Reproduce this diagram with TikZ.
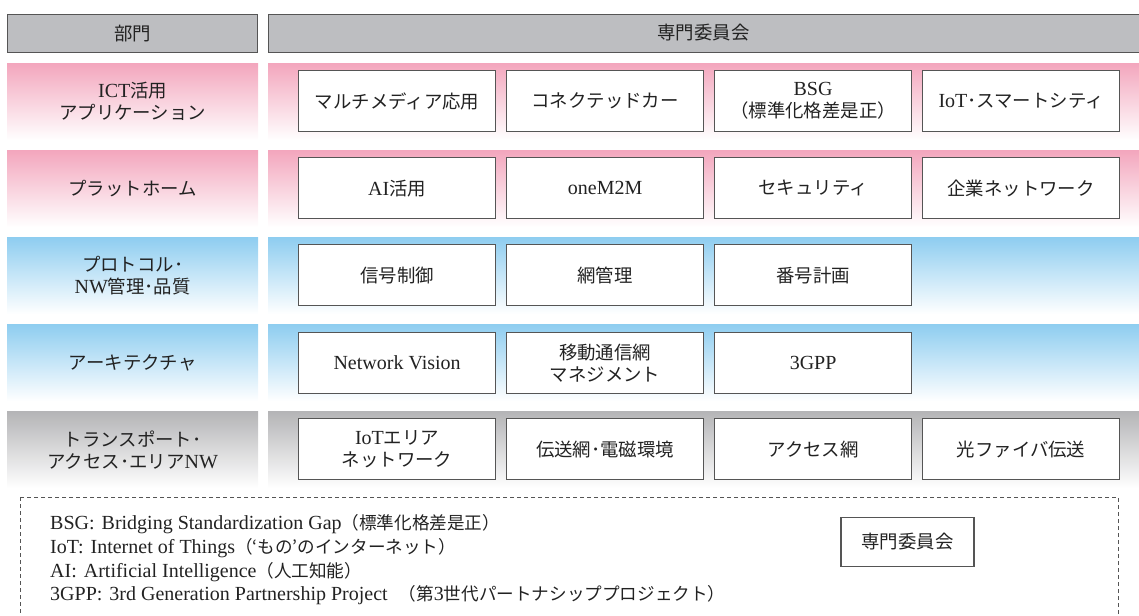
\documentclass[tikz,border=0pt]{standalone}
\usepackage{fontspec}
\setmainfont{Liberation Serif}
\newfontfamily\jp{Noto Sans CJK JP}[Scale=0.92]
\newfontfamily\jpl{Noto Sans CJK JP}[Scale=0.88]
\definecolor{hdrgray}{HTML}{BDBEC1}
\definecolor{pinktop}{HTML}{F3A6BD}
\definecolor{bluetop}{HTML}{8ECDF0}
\definecolor{graytop}{HTML}{B4B4B6}
\definecolor{edgegray}{HTML}{555555}
\definecolor{txt}{HTML}{222222}
\tikzset{
  hdr/.style={draw=edgegray, line width=1.3pt, fill=hdrgray, anchor=north west, inner sep=0pt, text=txt, font=\fontsize{20}{24}\selectfont},
  band/.style={anchor=north west, inner sep=0pt, minimum height=77pt, bottom color=white, text=txt, align=center, font=\fontsize{20}{22}\selectfont},
  cbox/.style={draw=edgegray, line width=1.2pt, fill=white, anchor=north west, minimum width=197pt, minimum height=61pt, inner sep=0pt, align=center, text=txt, font=\fontsize{20}{22}\selectfont},
  legend/.style={anchor=base west, inner sep=0pt, text=txt, font=\fontsize{20}{24}\selectfont},
}
\newcommand{\colsp}{:\hspace{0.35em}}
\begin{document}
\begin{tikzpicture}[x=1pt,y=-1pt]
\useasboundingbox (0,0) rectangle (1139,615);
\begin{scope}
\clip (0,0) rectangle (1139,615);
% header
\node[hdr, minimum width=250pt, minimum height=38pt] (h1) at (7,14) {\jp 部門};
\node[hdr, minimum width=880pt, minimum height=38pt] (h2) at (268,14) {};
\node[text=txt, font=\fontsize{20}{24}\selectfont] (h2t) at (703.5,33) {\jp 専門委員会};
% bands
\node[band, top color=pinktop, minimum width=251pt] (l1) at (7,63) {ICT{\jp 活用}\\{\jp アプリケーション}};
\node[band, top color=pinktop, minimum width=880pt] (r1) at (268,63) {};
\node[band, top color=pinktop, minimum width=251pt] (l2) at (7,150) {\jp プラットホーム};
\node[band, top color=pinktop, minimum width=880pt] (r2) at (268,150) {};
\node[band, top color=bluetop, minimum width=251pt] (l3) at (7,237) {{\jp プロトコル･}\\NW{\jp 管理･品質}};
\node[band, top color=bluetop, minimum width=880pt] (r3) at (268,237) {};
\node[band, top color=bluetop, minimum width=251pt] (l4) at (7,324) {\jp アーキテクチャ};
\node[band, top color=bluetop, minimum width=880pt] (r4) at (268,324) {};
\node[band, top color=graytop, minimum width=251pt] (l5) at (7,411) {{\jp トランスポート･}\\{\jp アクセス･エリア}NW};
\node[band, top color=graytop, minimum width=880pt] (r5) at (268,411) {};
% boxes row 1
\node[cbox] (a1) at (298,70) {\jp マルチメディア応用};
\node[cbox] (a2) at (506,70) {\jp コネクテッドカー};
\node[cbox] (a3) at (714,70) {BSG\\{\jp （標準化格差是正）}};
\node[cbox] (a4) at (922,70) {IoT{\jp ･スマートシティ}};
% row 2
\node[cbox] (b1) at (298,157) {AI{\jp 活用}};
\node[cbox] (b2) at (506,157) {oneM2M};
\node[cbox] (b3) at (714,157) {\jp セキュリティ};
\node[cbox] (b4) at (922,157) {\jp 企業ネットワーク};
% row 3
\node[cbox] (c1) at (298,244) {\jp 信号制御};
\node[cbox] (c2) at (506,244) {\jp 網管理};
\node[cbox] (c3) at (714,244) {\jp 番号計画};
% row 4
\node[cbox] (d1) at (298,332) {Network Vision};
\node[cbox] (d2) at (506,332) {{\jp 移動通信網}\\{\jp マネジメント}};
\node[cbox] (d3) at (714,332) {3GPP};
% row 5
\node[cbox] (e1) at (298,418) {IoT{\jp エリア}\\{\jp ネットワーク}};
\node[cbox] (e2) at (506,418) {\jp 伝送網･電磁環境};
\node[cbox] (e3) at (714,418) {\jp アクセス網};
\node[cbox] (e4) at (922,418) {\jp 光ファイバ伝送};
% legend
\draw[edgegray, line width=1pt, dash pattern=on 4pt off 3pt] (20,497) rectangle (1118,640);
\node[legend] (n1) at (50,529) {BSG\colsp Bridging Standardization Gap{\jpl （標準化格差是正）}};
\node[legend] (n2) at (50,553) {IoT\colsp Internet of Things{\jpl （‘もの’のインターネット）}};
\node[legend] (n3) at (50,577) {AI\colsp Artificial Intelligence{\jpl （人工知能）}};
\node[legend] (n4) at (50,600) {3GPP\colsp 3rd Generation Partnership Project\hspace{0.3em} {\jpl （第}3{\jpl 世代パートナシッププロジェクト）}};
\node[draw=edgegray, line width=1.2pt, fill=white, minimum width=133pt, minimum height=49pt, inner sep=0pt, text=txt, font=\fontsize{20}{22}\selectfont] (key) at (907.5,542) {\jp 専門委員会};
\end{scope}
\end{tikzpicture}
\end{document}
